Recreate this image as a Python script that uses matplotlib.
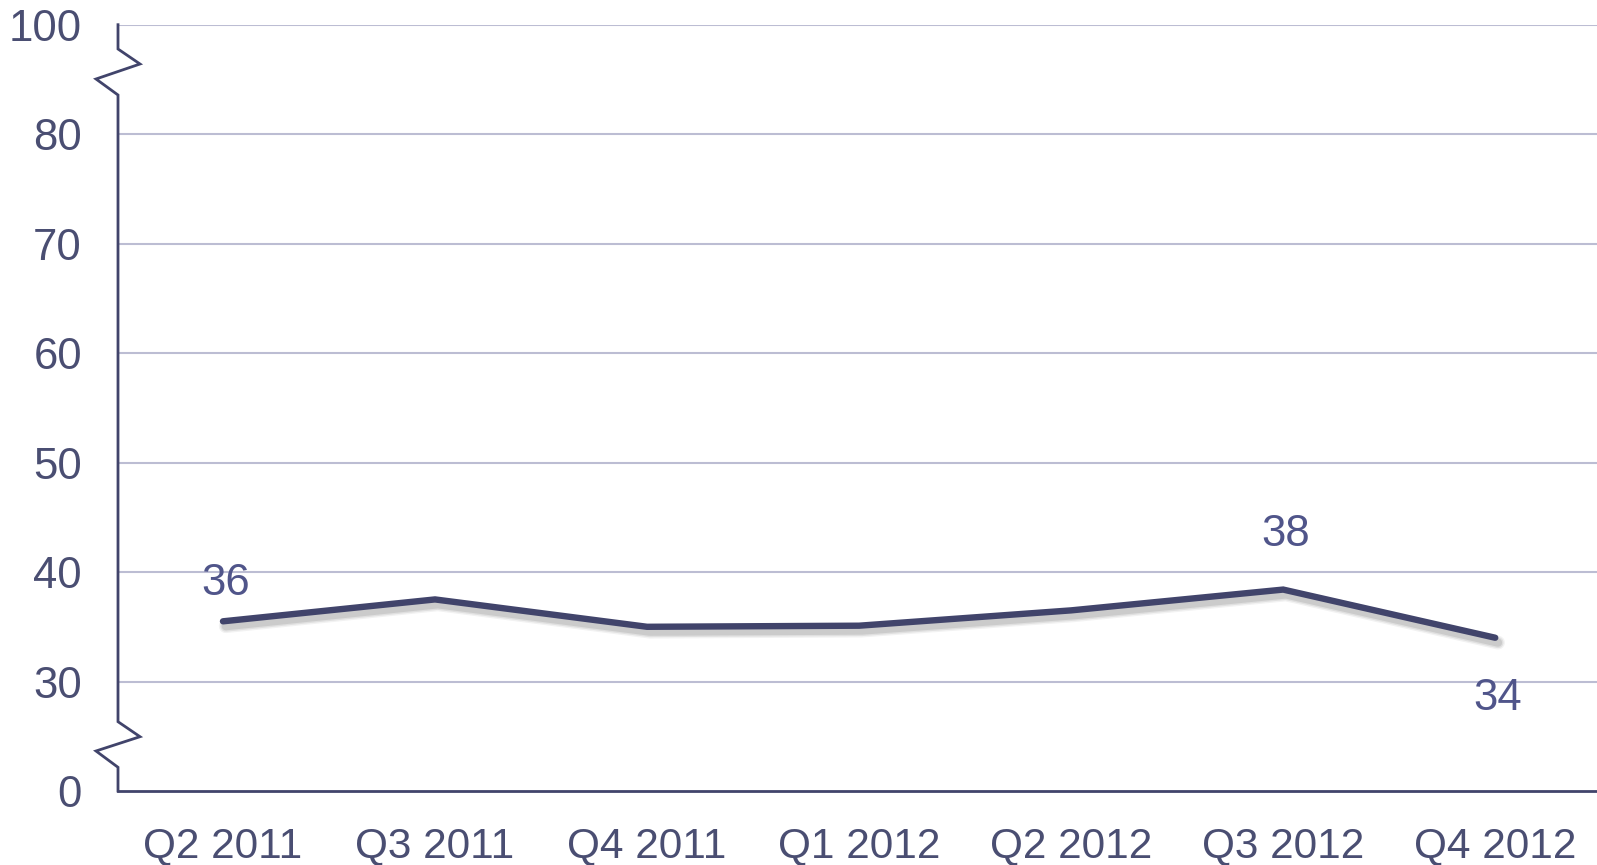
import numpy as np
import matplotlib
matplotlib.use("Agg")
import matplotlib.pyplot as plt
import matplotlib.patheffects as pe

categories = ["Q2 2011", "Q3 2011", "Q4 2011", "Q1 2012", "Q2 2012", "Q3 2012", "Q4 2012"]
values = [35.5, 37.5, 35.0, 35.1, 36.5, 38.4, 34.0]
label_idx = [0, 5, 6]
label_text = ["36", "38", "34"]
label_offsets_pt = [27, 40, -44]
yticks = [0, 30, 40, 50, 60, 70, 80, 100]

plt.rcParams['font.family'] = ['Liberation Sans', 'DejaVu Sans']

TEXT = "#4a4e72"
LINE = "#41446b"
GRID = "#bcbdd3"
LBL = "#50558a"


def fwd(v):
    v = np.asarray(v, dtype=float)
    return np.where(v <= 30, v / 30.0,
                    np.where(v <= 80, 1 + (v - 30) / 10.0, 6 + (v - 80) / 20.0))


def inv(p):
    p = np.asarray(p, dtype=float)
    return np.where(p <= 1, p * 30.0,
                    np.where(p <= 6, 30 + (p - 1) * 10.0, 80 + (p - 6) * 20.0))


W, H = 1597, 865
fig = plt.figure(figsize=(W / 100, H / 100), dpi=100)
ax_left, ax_right, ax_top, ax_bot = 118, 1597, 24.7, 791
ax = fig.add_axes([ax_left / W, (H - ax_bot) / H, (ax_right - ax_left) / W, (ax_bot - ax_top) / H])
ax.set_yscale('function', functions=(fwd, inv))
ax.set_ylim(0, 100)
ax.set_xlim(-0.495, 6.48)

for t in yticks[1:]:
    ax.axhline(t, color=GRID, lw=1.5, zorder=1)

x = np.arange(len(categories))
shadow = [pe.SimpleLineShadow(offset=(2, -3.5), shadow_color='#000000', alpha=a, linewidth=w)
          for a, w in [(0.05, 10), (0.07, 8), (0.09, 6)]]
ax.plot(x, values, color=LINE, lw=4.6, solid_capstyle='round', solid_joinstyle='miter', zorder=3,
        path_effects=shadow + [pe.Normal()])

for i, txt, off in zip(label_idx, label_text, label_offsets_pt):
    ax.annotate(txt, (x[i] + 0.012, values[i]), xytext=(0, off), textcoords='offset points',
                ha='center', va='center', fontsize=31.5, color=LBL)

ax.set_xticks(x)
ax.set_xticklabels(categories)
ax.set_yticks(yticks)
ax.set_yticklabels([str(t) for t in yticks])
ax.tick_params(axis='x', length=0, pad=25, labelsize=30.5, labelcolor=TEXT)
ax.tick_params(axis='y', length=0, pad=26, labelsize=31.5, labelcolor=TEXT)
ax.minorticks_off()

for s in ['top', 'right', 'left']:
    ax.spines[s].set_visible(False)
ax.spines['bottom'].set_color(LINE)
ax.spines['bottom'].set_linewidth(2)

# left axis with zigzag break marks (axes fraction coords)
aw = ax_right - ax_left
ah = ax_bot - ax_top
def fy(p):
    return (ax_bot - p) / ah
def fx(px):
    return (px - ax_left) / aw
xs = [0, 0, fx(140), fx(96), 0, 0, 0, fx(140), fx(96), 0, 0]
ys_px = [ax_top, 49, 64, 79, 95, 650, 721.7, 736.7, 751, 767.3, ax_bot]
ax.plot(xs, [fy(p) for p in ys_px], transform=ax.transAxes, color=LINE, lw=2,
        clip_on=False, zorder=4, solid_joinstyle='miter')

fig.savefig("out.png", dpi=100, facecolor='white')
